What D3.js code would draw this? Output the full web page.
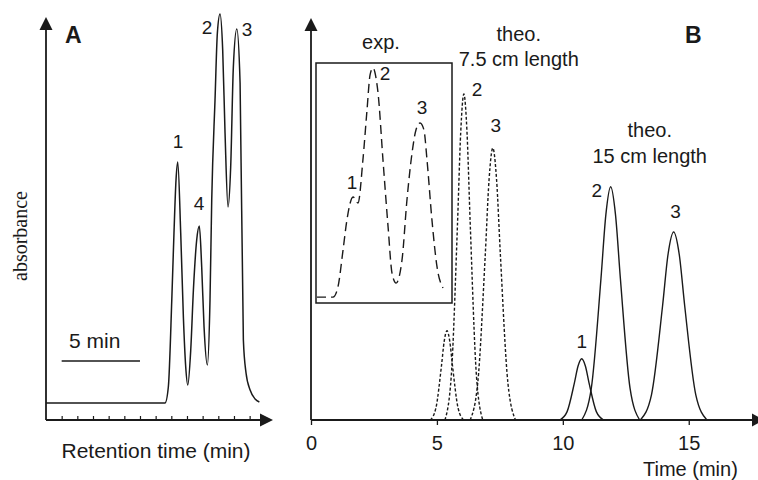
<!DOCTYPE html>
<html>
<head>
<meta charset="utf-8">
<script src="https://cdn.jsdelivr.net/npm/d3@7"></script>
<style>
  body { margin: 0; background: #fff; }
  svg text { font-family: "Liberation Sans", Arial, sans-serif; fill: #1a1a1a; }
</style>
</head>
<body>
<div id="chart"></div>
<script>
// ---- data ----

// panel A: measured chromatogram, [retention time (min), absorbance]
var traceA = [
  [0, 17], [7.60, 17], [7.81, 33], [8.03, 120], [8.17, 187], [8.30, 240], [8.41, 258],
  [8.60, 187], [8.77, 103], [8.92, 53], [9.05, 35], [9.24, 70], [9.41, 130], [9.62, 180],
  [9.79, 194], [9.94, 153], [10.09, 93], [10.30, 55], [10.47, 120], [10.58, 220],
  [10.79, 320], [10.94, 387], [11.11, 406], [11.28, 370], [11.43, 287], [11.62, 213],
  [11.79, 253], [11.96, 353], [12.18, 391], [12.39, 337], [12.60, 80], [12.77, 47],
  [13.03, 30], [13.35, 21], [13.62, 18]
];
var ticksA = [1, 2, 3, 4, 5, 6, 7, 8, 9, 10, 11, 12, 13];
var peakNamesA = ['1', '4', '2', '3'];
var peakLabelTimeA = [8.43, 9.77, 10.28, 12.84];
var peakLabelValueA = [272, 210, 386, 384];
var scaleBarMin = 5;

// panel B inset: experimental trace, [time, absorbance]
var expTrace = [
  [0.06, 0], [1.0, 0], [1.29, 4.3], [1.59, 20.1], [1.82, 33.0], [2.18, 42.8], [2.47, 40.2],
  [2.76, 58.6], [3.0, 79.9], [3.18, 94.9], [3.35, 97.9], [3.53, 93.6], [3.65, 87.2],
  [3.94, 58.6], [4.24, 30.0], [4.47, 10.3], [4.71, 6.0], [5.06, 15.9], [5.35, 41.5],
  [5.65, 61.6], [5.88, 71.4], [6.12, 74.4], [6.35, 71.4], [6.53, 58.6], [6.82, 33.0],
  [7.12, 12.9], [7.47, 3.9]
];
var expNames = ['1', '2', '3'];
var expLabelTime = [2.12, 4.06, 6.24];
var expLabelValue = [46.1, 92.7, 78.2];

// panel B: theoretical peaks, 7.5 cm column
var theo75Peaks = [
  [[4.74, 0], [4.96, 3.0], [5.18, 13.5], [5.29, 19.7], [5.40, 22.3], [5.51, 19.7], [5.62, 13.5], [5.84, 3.0], [6.06, 0]],
  [[5.32, 0], [5.57, 11.0], [5.82, 49.5], [5.945, 71.9], [6.07, 81.5], [6.195, 71.9], [6.32, 49.5], [6.57, 11.0], [6.82, 0]],
  [[6.32, 0], [6.62, 9.2], [6.92, 41.3], [7.07, 60.0], [7.22, 68], [7.37, 60.0], [7.52, 41.3], [7.82, 9.2], [8.12, 0]]
];
// panel B: theoretical peaks, 15 cm column
var theo15Peaks = [
  [[9.88, 0], [10.17, 2.1], [10.46, 9.3], [10.605, 13.5], [10.75, 15.3], [10.895, 13.5], [11.04, 9.3], [11.33, 2.1], [11.62, 0]],
  [[10.75, 0], [11.13, 7.9], [11.515, 35.4], [11.71, 51.4], [11.9, 58.3], [12.09, 51.4], [12.285, 35.4], [12.67, 7.9], [13.05, 0]],
  [[13.08, 0], [13.52, 6.3], [13.96, 28.5], [14.18, 41.5], [14.4, 47], [14.62, 41.5], [14.84, 28.5], [15.28, 6.3], [15.72, 0]]
];
var theo75Names = ['2', '3'];
var theo75LabelTime = [6.59, 7.34];
var theo75LabelValue = [81, 72];
var theo15Names = ['1', '2', '3'];
var theo15LabelTime = [10.75, 11.35, 14.48];
var theo15LabelValue = [18, 55.75, 50.5];
var ticksB = [0, 5, 10, 15];

var ink = '#1a1a1a';

var svg = d3.select('#chart').append('svg')
  .attr('width', 758)
  .attr('height', 480)

function arrow(g, pts) {
  g.append('path')
    .attr('d', 'M' + pts.join('L') + 'Z')
    .attr('fill', ink)
}

// ---------------- panel A ----------------
var xA = d3.scaleLinear().domain([0, 14.3]).range([46, 270])
var yA = d3.scaleLinear().domain([0, 400]).range([420, 20])

var gA = svg.append('g')

gA.append('line')
  .attr('x1', xA(0)).attr('x2', xA(0))
  .attr('y1', yA(0)).attr('y2', 26)
  .attr('stroke', ink).attr('stroke-width', 1.8)
arrow(gA, [[xA(0), 17], [xA(0) - 6.5, 30], [xA(0) + 6.5, 30]])

var axisA = d3.axisBottom(xA).tickValues(ticksA).tickSize(-4).tickFormat('')
var axA = gA.append('g')
  .attr('transform', 'translate(0,' + yA(0) + ')')
  .call(axisA)
axA.select('.domain').remove()
axA.selectAll('line').attr('stroke', ink).attr('stroke-width', 1.2)
gA.append('line')
  .attr('x1', xA(0)).attr('x2', 264)
  .attr('y1', yA(0)).attr('y2', yA(0))
  .attr('stroke', ink).attr('stroke-width', 1.8)
arrow(gA, [[273, yA(0)], [260, yA(0) - 6.5], [260, yA(0) + 6.5]])

var lineA = d3.line()
  .x(function(d) { return xA(d[0]) })
  .y(function(d) { return yA(d[1]) })
  .curve(d3.curveMonotoneX)

gA.append('path')
  .datum(traceA)
  .attr('d', lineA)
  .attr('fill', 'none')
  .attr('stroke', ink)
  .attr('stroke-width', 1.5)

gA.selectAll('.peakA')
  .data(peakNamesA)
  .enter().append('text')
  .attr('class', 'peakA')
  .attr('x', function(d, i) { return xA(peakLabelTimeA[i]) })
  .attr('y', function(d, i) { return yA(peakLabelValueA[i]) })
  .attr('text-anchor', 'middle')
  .style('font-size', '19px')
  .text(function(d) { return d })

// scale bar
gA.append('line')
  .attr('x1', xA(1)).attr('x2', xA(1 + scaleBarMin))
  .attr('y1', 361).attr('y2', 361)
  .attr('stroke', ink).attr('stroke-width', 1.3)
gA.append('text')
  .attr('x', 69).attr('y', 348)
  .style('font-size', '21px')
  .text(scaleBarMin + ' min')

gA.append('text')
  .attr('x', 65).attr('y', 43)
  .style('font-size', '23px').style('font-weight', 'bold')
  .text('A')

gA.append('text')
  .attr('x', 156).attr('y', 458)
  .attr('text-anchor', 'middle')
  .style('font-size', '21px')
  .text('Retention time (min)')

gA.append('text')
  .attr('transform', 'translate(27,236) rotate(-90)')
  .attr('text-anchor', 'middle')
  .style('font-family', '"Liberation Serif", "Times New Roman", serif')
  .style('font-size', '20px')
  .text('absorbance')

// ---------------- panel B ----------------
var xB = d3.scaleLinear().domain([0, 17.75]).range([311, 758])
var yB = d3.scaleLinear().domain([0, 100]).range([420, 20])

var gB = svg.append('g')

gB.append('line')
  .attr('x1', xB(0)).attr('x2', xB(0))
  .attr('y1', yB(0)).attr('y2', 27)
  .attr('stroke', ink).attr('stroke-width', 1.8)
arrow(gB, [[xB(0), 18], [xB(0) - 6.5, 31], [xB(0) + 6.5, 31]])

var axisB = d3.axisBottom(xB).tickValues(ticksB).tickSize(5).tickPadding(11)
var axB = gB.append('g')
  .attr('transform', 'translate(0,' + yB(0) + ')')
  .call(axisB)
axB.select('.domain').remove()
axB.selectAll('line').attr('stroke', ink).attr('stroke-width', 1.3)
axB.selectAll('text')
  .attr('fill', ink)
  .style('font-family', '"Liberation Sans", Arial, sans-serif')
  .style('font-size', '20px')
gB.append('line')
  .attr('x1', xB(0)).attr('x2', 756)
  .attr('y1', yB(0)).attr('y2', yB(0))
  .attr('stroke', ink).attr('stroke-width', 1.8)
arrow(gB, [[764, yB(0)], [752, yB(0) - 6.5], [752, yB(0) + 6.5]])

gB.append('text')
  .attr('x', 643).attr('y', 476)
  .style('font-size', '20px')
  .text('Time (min)')

gB.append('text')
  .attr('x', 685).attr('y', 43)
  .style('font-size', '23px').style('font-weight', 'bold')
  .text('B')

var lineB = d3.line()
  .x(function(d) { return xB(d[0]) })
  .y(function(d) { return yB(d[1]) })
  .curve(d3.curveMonotoneX)

gB.selectAll('.theo75')
  .data(theo75Peaks)
  .enter().append('path')
  .attr('class', 'theo75')
  .attr('d', lineB)
  .attr('fill', 'none')
  .attr('stroke', ink)
  .attr('stroke-width', 1.4)
  .attr('stroke-dasharray', '3,2')

gB.selectAll('.theo15')
  .data(theo15Peaks)
  .enter().append('path')
  .attr('class', 'theo15')
  .attr('d', lineB)
  .attr('fill', 'none')
  .attr('stroke', ink)
  .attr('stroke-width', 1.4)

gB.selectAll('.lab75')
  .data(theo75Names)
  .enter().append('text')
  .attr('class', 'lab75')
  .attr('x', function(d, i) { return xB(theo75LabelTime[i]) })
  .attr('y', function(d, i) { return yB(theo75LabelValue[i]) })
  .attr('text-anchor', 'middle')
  .style('font-size', '19px')
  .text(function(d) { return d })

gB.selectAll('.lab15')
  .data(theo15Names)
  .enter().append('text')
  .attr('class', 'lab15')
  .attr('x', function(d, i) { return xB(theo15LabelTime[i]) })
  .attr('y', function(d, i) { return yB(theo15LabelValue[i]) })
  .attr('text-anchor', 'middle')
  .style('font-size', '19px')
  .text(function(d) { return d })

var titles = gB.append('g').style('font-size', '20px').attr('text-anchor', 'middle')
titles.append('text').attr('x', xB(8.25)).attr('y', yB(94.75)).text('theo.')
titles.append('text').attr('x', xB(8.25)).attr('y', yB(88.5)).text('7.5 cm length')
titles.append('text').attr('x', xB(13.45)).attr('y', yB(70.75)).text('theo.')
titles.append('text').attr('x', xB(13.45)).attr('y', yB(64.25)).text('15 cm length')

// inset with the experimental run
var xIn = d3.scaleLinear().domain([0, 8]).range([316, 452])
var yIn = d3.scaleLinear().domain([-2.5, 100]).range([303, 63])

gB.append('rect')
  .attr('x', xIn(0)).attr('y', yIn(100))
  .attr('width', xIn(8) - xIn(0))
  .attr('height', yIn(-2.5) - yIn(100))
  .attr('fill', 'none')
  .attr('stroke', ink)
  .attr('stroke-width', 1.5)

var lineIn = d3.line()
  .x(function(d) { return xIn(d[0]) })
  .y(function(d) { return yIn(d[1]) })
  .curve(d3.curveMonotoneX)

gB.append('path')
  .datum(expTrace)
  .attr('d', lineIn)
  .attr('fill', 'none')
  .attr('stroke', ink)
  .attr('stroke-width', 1.4)
  .attr('stroke-dasharray', '9,5')

gB.selectAll('.labExp')
  .data(expNames)
  .enter().append('text')
  .attr('class', 'labExp')
  .attr('x', function(d, i) { return xIn(expLabelTime[i]) })
  .attr('y', function(d, i) { return yIn(expLabelValue[i]) })
  .attr('text-anchor', 'middle')
  .style('font-size', '19px')
  .text(function(d) { return d })

gB.append('text')
  .attr('x', (xIn(0) + xIn(8)) / 2 - 3).attr('y', 49)
  .attr('text-anchor', 'middle')
  .style('font-size', '20px')
  .text('exp.')
</script>
</body>
</html>
